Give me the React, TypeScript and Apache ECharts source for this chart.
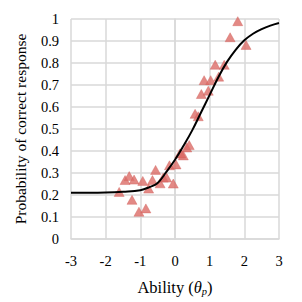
import React, { useEffect, useRef } from "react";
import * as echarts from "echarts";

const xTicks = [-3, -2, -1, 0, 1, 2, 3];
const yTicks = [0, 0.1, 0.2, 0.3, 0.4, 0.5, 0.6, 0.7, 0.8, 0.9, 1];

const pointX = [
  -1.61, -1.44, -1.32, -1.18, -1.24, -1.04, -0.84, -0.93, -0.76, -0.65, -0.56, -0.43, -0.34, -0.24,
  -0.05, -0.16, 0.03, 0.14, 0.24, 0.17, 0.34, 0.41, 0.58, 0.67, 0.76, 0.96, 0.84, 1.03, 1.26, 1.16,
  1.42, 1.59, 2.05, 1.81,
];
const pointY = [
  0.214, 0.268, 0.286, 0.27, 0.178, 0.124, 0.139, 0.264, 0.229, 0.268, 0.314, 0.253, 0.279, 0.279,
  0.252, 0.335, 0.339, 0.389, 0.38, 0.389, 0.416, 0.427, 0.569, 0.558, 0.659, 0.674, 0.722, 0.722,
  0.738, 0.792, 0.792, 0.917, 0.882, 0.99,
];

const curveX = [-3, -2.5, -2, -1.5, -1, -0.75, -0.5, -0.25, 0, 0.25, 0.5, 0.75, 1, 1.25, 1.5, 1.75, 2, 2.25, 2.5, 2.75, 3];
const curveY = [0.21, 0.21, 0.211, 0.215, 0.222, 0.235, 0.255, 0.305, 0.36, 0.425, 0.495, 0.575, 0.655, 0.735, 0.805, 0.86, 0.903, 0.933, 0.954, 0.97, 0.982];

export default function App() {
  const ref = useRef<HTMLDivElement>(null);
  useEffect(() => {
    if (!ref.current) return;
    const chart = echarts.init(ref.current, undefined, { renderer: "svg" });
    const font = "Liberation Serif";
    chart.setOption({
      animation: false,
      grid: { left: 71, right: 23, top: 19, bottom: 62, containLabel: false },
      xAxis: {
        type: "value",
        min: xTicks[0],
        max: xTicks[xTicks.length - 1],
        interval: 1,
        axisLine: { show: true, lineStyle: { color: "#d9d9d9", width: 1.5 } },
        axisTick: { show: false },
        splitLine: { show: true, lineStyle: { color: "#d9d9d9", width: 1.5 } },
        axisLabel: { color: "#000", fontFamily: font, fontSize: 14.5, margin: 14 },
        name: "{n|Ability (}{i|θ}{s|p}{n|)}",
        nameLocation: "middle",
        nameGap: 38,
        nameTextStyle: {
          rich: {
            n: { fontFamily: font, fontSize: 16.5, color: "#000" },
            i: { fontFamily: font, fontSize: 16.5, fontStyle: "italic", color: "#000" },
            s: { fontFamily: font, fontSize: 10.5, fontStyle: "italic", color: "#000", verticalAlign: "bottom", padding: [9, 0, 0, 0] },
          },
        },
      },
      yAxis: {
        type: "value",
        min: 0,
        max: 1,
        interval: 0.1,
        axisLine: { show: true, lineStyle: { color: "#d9d9d9", width: 1.5 } },
        axisTick: { show: false },
        splitLine: { show: true, lineStyle: { color: "#d9d9d9", width: 1.5 } },
        axisLabel: {
          color: "#000",
          fontFamily: font,
          fontSize: 14.5,
          margin: 12,
          formatter: (v: number) => String(Math.round(v * 10) / 10),
        },
        name: "Probability of correct response",
        nameLocation: "middle",
        nameGap: 43,
        nameTextStyle: { fontFamily: font, fontSize: 15.5, color: "#000" },
      },
      series: [
        {
          type: "line",
          data: curveX.map((x, i) => [x, curveY[i]]),
          smooth: 0.4,
          showSymbol: false,
          lineStyle: { color: "#000", width: 2 },
          z: 3,
        },
        {
          type: "scatter",
          data: pointX.map((x, i) => [x, pointY[i]]),
          symbol: "triangle",
          symbolSize: [10, 9],
          itemStyle: { color: "#dc6c66", borderColor: "#d0605a", borderWidth: 0.5 },
          z: 2,
        },
      ],
    });
    return () => chart.dispose();
  }, []);
  return <div ref={ref} style={{ width: 302, height: 302, position: "absolute", left: 0, top: 0 }} />;
}
